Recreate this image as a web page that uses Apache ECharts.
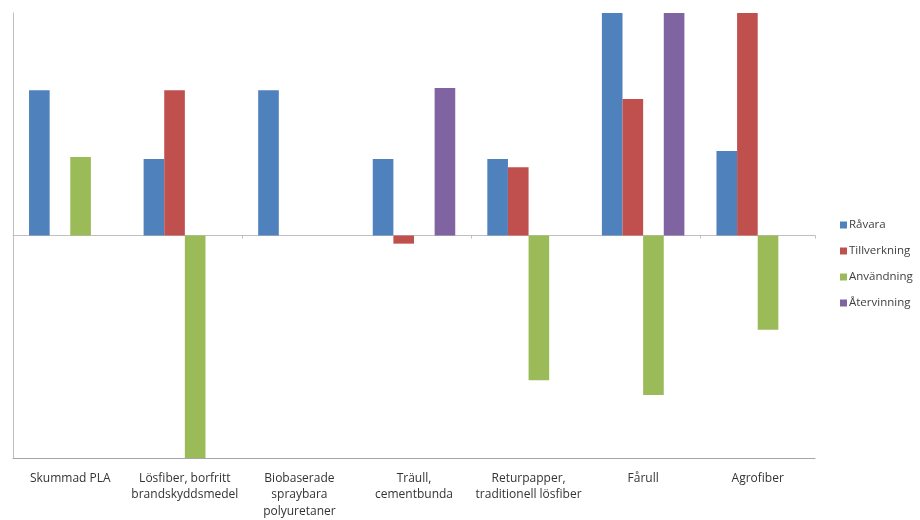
<!DOCTYPE html>
<html><head><meta charset="utf-8">
<script src="https://cdn.jsdelivr.net/npm/echarts@6/dist/echarts.min.js"></script>
<style>html,body{margin:0;padding:0;background:#fff}#c{width:920px;height:520px}</style>
</head><body><div id="c"></div>
<script>
const categories = ['Skummad PLA', 'Lösfiber, borfritt\nbrandskyddsmedel', 'Biobaserade\nspraybara\npolyuretaner', 'Träull,\ncementbunda', 'Returpapper,\ntraditionell lösfiber', 'Fårull', 'Agrofiber'];
const seriesNames = ['Råvara', 'Tillverkning', 'Användning', 'Återvinning'];
const ravara = [1.96, 1.03, 1.96, 1.03, 1.03, 3, 1.14];
const tillverkning = [0, 1.96, 0, -0.11, 0.92, 1.84, 3];
const anvandning = [1.06, -3, 0, 0, -1.95, -2.15, -1.27];
const atervinning = [0, 0, 0, 1.99, 0, 3, 0];
const colors = ['#4F81BD', '#C0504D', '#9BBB59', '#8064A2'];
const values = [ravara, tillverkning, anvandning, atervinning];

const chart = echarts.init(document.getElementById('c'));
chart.setOption({
  animation: false,
  color: colors,
  textStyle: { fontFamily: 'Open Sans' },
  grid: { left: 13, right: 105, top: 13, bottom: 62, containLabel: false, outerBoundsMode: 'none' },
  legend: {
    orient: 'vertical', left: 835, top: 214,
    itemWidth: 7, itemHeight: 7, itemGap: 14,
    icon: 'rect',
    textStyle: { fontSize: 11.5, color: '#404040', fontFamily: 'Open Sans', padding: [0,0,0,-3] },
    data: seriesNames
  },
  xAxis: [
    {
      type: 'category', data: categories, position: 'bottom',
      axisLine: { onZero: false, lineStyle: { color: '#A6A6A6', width: 1 } },
      axisTick: { show: false },
      axisLabel: { interval: 0, margin: 12, fontSize: 12, lineHeight: 16.5, color: '#333', fontFamily: 'Open Sans' }
    },
    {
      type: 'category', data: categories, position: 'bottom',
      axisLine: { onZero: true, lineStyle: { color: '#BFBFBF', width: 1 } },
      axisTick: { show: true, length: 3, lineStyle: { color: '#BFBFBF' } },
      axisLabel: { show: false }
    }
  ],
  yAxis: {
    type: 'value', min: -3, max: 3, interval: 1,
    axisLine: { show: true, lineStyle: { color: '#BFBFBF', width: 1 } },
    axisTick: { show: false },
    axisLabel: { show: false },
    splitLine: { show: false }
  },
  series: seriesNames.map((n, i) => ({
    name: n, type: 'bar', data: values[i], xAxisIndex: 0,
    barGap: '0%', barCategoryGap: '28%',
    itemStyle: { color: colors[i] }
  }))
});
</script></body></html>
